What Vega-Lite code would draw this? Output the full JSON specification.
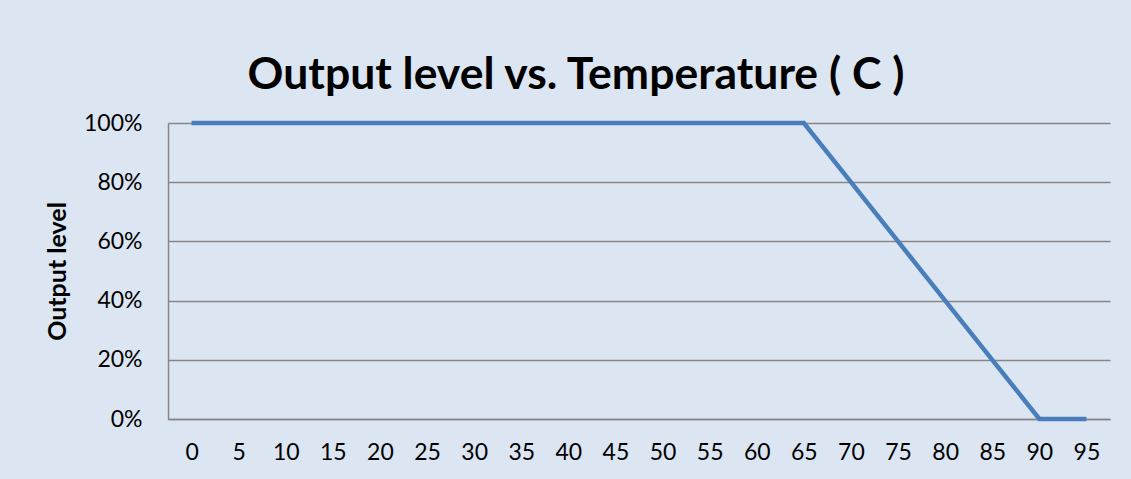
{
  "$schema": "https://vega.github.io/schema/vega-lite/v6.json",
  "autosize": "none",
  "width": 942,
  "height": 296,
  "padding": {"left": 168, "top": 123, "right": 21, "bottom": 60},
  "background": "#dce6f2",
  "title": {
    "text": "Output level vs. Temperature ( C )",
    "font": "Lato",
    "fontSize": 44.5,
    "fontWeight": "bold",
    "color": "#000000",
    "anchor": "middle",
    "frame": "group",
    "dx": -63,
    "dy": 55,
    "baseline": "alphabetic",
    "offset": 34
  },
  "config": {
    "view": {"stroke": null},
    "font": "Lato"
  },
  "data": {
    "values": [
      {"temp": "0", "level": 1},
      {"temp": "5", "level": 1},
      {"temp": "10", "level": 1},
      {"temp": "15", "level": 1},
      {"temp": "20", "level": 1},
      {"temp": "25", "level": 1},
      {"temp": "30", "level": 1},
      {"temp": "35", "level": 1},
      {"temp": "40", "level": 1},
      {"temp": "45", "level": 1},
      {"temp": "50", "level": 1},
      {"temp": "55", "level": 1},
      {"temp": "60", "level": 1},
      {"temp": "65", "level": 1},
      {"temp": "70", "level": 0.8},
      {"temp": "75", "level": 0.6},
      {"temp": "80", "level": 0.4},
      {"temp": "85", "level": 0.2},
      {"temp": "90", "level": 0},
      {"temp": "95", "level": 0}
    ]
  },
  "mark": {"type": "line", "color": "#4a7ebb", "strokeWidth": 4.5, "strokeJoin": "miter"},
  "encoding": {
    "x": {
      "field": "temp",
      "type": "ordinal",
      "sort": null,
      "scale": {"type": "point", "padding": 0.5},
      "axis": {
        "title": null,
        "labelAngle": 0,
        "labelFont": "Lato",
        "labelFontSize": 23,
        "labelColor": "#000000",
        "labelPadding": 22,
        "ticks": false,
        "domain": true,
        "domainColor": "#868686",
        "domainWidth": 1.5,
        "grid": false
      }
    },
    "y": {
      "field": "level",
      "type": "quantitative",
      "scale": {"domain": [0, 1]},
      "axis": {
        "title": "Output level",
        "titleFont": "Lato",
        "titleFontSize": 25,
        "titleFontWeight": "bold",
        "titleColor": "#000000",
        "titlePadding": 13,
        "format": ".0%",
        "values": [0, 0.2, 0.4, 0.6, 0.8, 1],
        "labelFont": "Lato",
        "labelFontSize": 23,
        "labelColor": "#000000",
        "labelPadding": 26,
        "ticks": false,
        "domain": true,
        "domainColor": "#868686",
        "domainWidth": 1.5,
        "grid": true,
        "gridColor": "#868686",
        "gridWidth": 1.5
      }
    }
  }
}
